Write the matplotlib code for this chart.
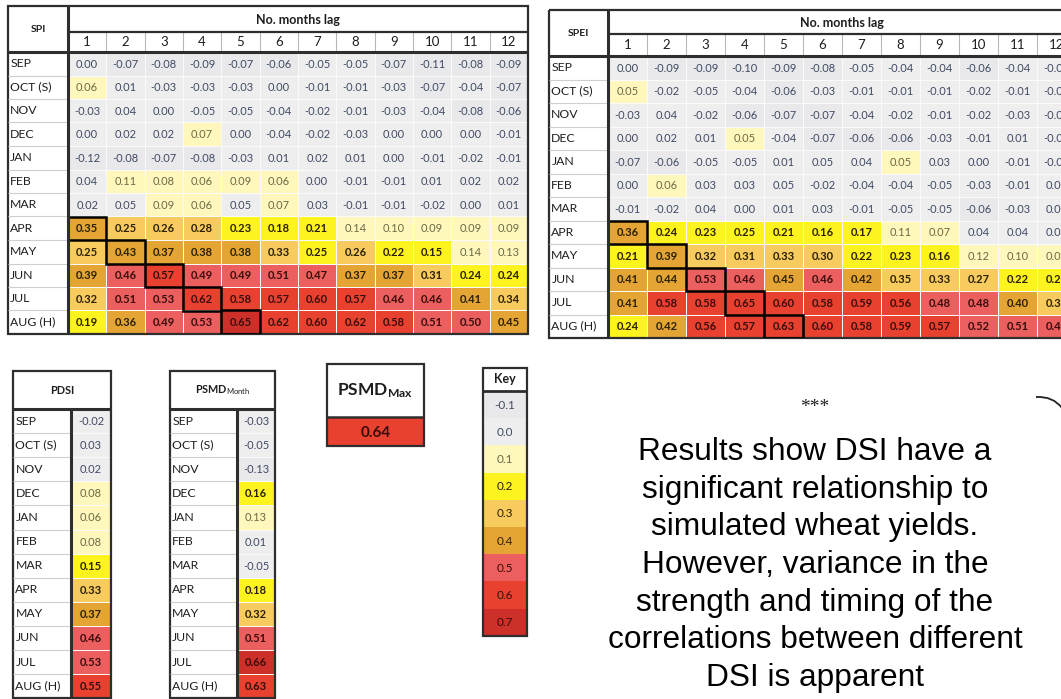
import matplotlib
matplotlib.use("Agg")
import matplotlib.pyplot as plt
import numpy as np
from matplotlib.colors import ListedColormap, BoundaryNorm
from matplotlib.patches import Rectangle, PathPatch
from matplotlib.path import Path

plt.rcParams['font.family'] = ['Lato', 'DejaVu Sans']
plt.rcParams['mathtext.fontset'] = 'custom'
plt.rcParams['mathtext.rm'] = 'Lato'
plt.rcParams['mathtext.bf'] = 'Lato:bold'
plt.rcParams['mathtext.it'] = 'Lato:italic'

# ---- data ----
months = ['SEP', 'OCT (S)', 'NOV', 'DEC', 'JAN', 'FEB', 'MAR',
          'APR', 'MAY', 'JUN', 'JUL', 'AUG (H)']
lags = [str(i) for i in range(1, 13)]

# third decimal only estimated where the cell colour says which side of a class edge it falls
spi = [
    [0.00, -0.07, -0.08, -0.09, -0.07, -0.06, -0.05, -0.05, -0.07, -0.11, -0.08, -0.09],
    [0.06, 0.01, -0.03, -0.03, -0.03, 0.00, -0.01, -0.01, -0.03, -0.07, -0.04, -0.07],
    [-0.03, 0.04, 0.00, -0.05, -0.05, -0.04, -0.02, -0.01, -0.03, -0.04, -0.08, -0.06],
    [0.00, 0.02, 0.02, 0.07, 0.00, -0.04, -0.02, -0.03, 0.00, 0.00, 0.00, -0.01],
    [-0.12, -0.08, -0.07, -0.08, -0.03, 0.01, 0.02, 0.01, 0.00, -0.01, -0.02, -0.01],
    [0.04, 0.11, 0.08, 0.06, 0.09, 0.06, 0.00, -0.01, -0.01, 0.01, 0.02, 0.02],
    [0.02, 0.048, 0.09, 0.06, 0.048, 0.07, 0.03, -0.01, -0.01, -0.02, 0.00, 0.01],
    [0.352, 0.252, 0.26, 0.28, 0.23, 0.18, 0.21, 0.14, 0.10, 0.09, 0.09, 0.09],
    [0.252, 0.43, 0.37, 0.38, 0.38, 0.33, 0.248, 0.26, 0.22, 0.152, 0.14, 0.13],
    [0.39, 0.46, 0.57, 0.49, 0.49, 0.51, 0.47, 0.37, 0.37, 0.31, 0.24, 0.24],
    [0.32, 0.51, 0.53, 0.62, 0.58, 0.57, 0.60, 0.57, 0.46, 0.46, 0.41, 0.34],
    [0.19, 0.36, 0.49, 0.53, 0.652, 0.62, 0.60, 0.62, 0.58, 0.51, 0.50, 0.448],
]
spei = [
    [0.00, -0.09, -0.09, -0.10, -0.09, -0.08, -0.05, -0.04, -0.04, -0.06, -0.04, -0.05],
    [0.052, -0.02, -0.05, -0.04, -0.06, -0.03, -0.01, -0.01, -0.01, -0.02, -0.01, -0.04],
    [-0.03, 0.04, -0.02, -0.06, -0.07, -0.07, -0.04, -0.02, -0.01, -0.02, -0.03, -0.03],
    [0.00, 0.02, 0.01, 0.052, -0.04, -0.07, -0.06, -0.06, -0.03, -0.01, 0.01, -0.01],
    [-0.07, -0.06, -0.05, -0.05, 0.01, 0.048, 0.04, 0.052, 0.03, 0.00, -0.01, -0.01],
    [0.00, 0.06, 0.03, 0.03, 0.048, -0.02, -0.04, -0.04, -0.05, -0.03, -0.01, 0.00],
    [-0.01, -0.02, 0.04, 0.00, 0.01, 0.03, -0.01, -0.05, -0.05, -0.06, -0.03, 0.00],
    [0.36, 0.24, 0.23, 0.248, 0.21, 0.16, 0.17, 0.11, 0.07, 0.04, 0.04, 0.04],
    [0.21, 0.39, 0.32, 0.31, 0.33, 0.30, 0.22, 0.23, 0.16, 0.12, 0.10, 0.08],
    [0.41, 0.44, 0.53, 0.46, 0.448, 0.46, 0.42, 0.348, 0.33, 0.27, 0.22, 0.20],
    [0.41, 0.58, 0.58, 0.648, 0.60, 0.58, 0.59, 0.56, 0.48, 0.48, 0.40, 0.34],
    [0.24, 0.42, 0.56, 0.57, 0.63, 0.60, 0.58, 0.59, 0.57, 0.52, 0.51, 0.46],
]
pdsi = [-0.02, 0.03, 0.02, 0.08, 0.06, 0.08, 0.152, 0.33, 0.37, 0.46, 0.53, 0.552]
psmd_month = [-0.03, -0.05, -0.13, 0.16, 0.13, 0.01, -0.05, 0.18, 0.32, 0.51, 0.66, 0.63]
psmd_max = [0.64]
key_levels = [-0.1, 0.0, 0.1, 0.2, 0.3, 0.4, 0.5, 0.6, 0.7]

# highlighted diagonal (first lag month of APR..AUG)
diag_rows = [7, 8, 9, 10, 11]
diag_cols = [0, 1, 2, 3, 4]

summary = ["Results show DSI have a", "significant relationship to",
           "simulated wheat yields.", "However, variance in the",
           "strength and timing of the", "correlations between different",
           "DSI is apparent"]

# ---- colour classes ----
class_colors = ['#e9e9eb', '#eeeeee', '#fff7bc', '#fdf31e', '#f8cb5e',
                '#e4a535', '#eb5f5e', '#e8412f', '#cd2f29']
bounds = [-1, -0.05, 0.05, 0.15, 0.25, 0.35, 0.45, 0.55, 0.65, 1]
cmap = ListedColormap(class_colors)
norm = BoundaryNorm(bounds, cmap.N)


def txt_style(v):
    k = norm(v)
    if k <= 1:
        return dict(color='#3f4a63', fontweight='normal')
    if k == 2:
        return dict(color='#6b6a45', fontweight='normal')
    if k <= 5:
        return dict(color='#2b2000', fontweight='bold')
    return dict(color='#3a0c0c', fontweight='bold')


W, H = 1061, 699
fig = plt.figure(figsize=(W / 100, H / 100), dpi=100)
fig.patch.set_facecolor('white')

# background axes for free text, pixel coordinates
bg = fig.add_axes([0, 0, 1, 1])
bg.set_xlim(0, W)
bg.set_ylim(H, 0)
bg.axis('off')


def make_axes(left, top, col_w, row_h, xmin, xmax, ymin, ymax):
    width = (xmax - xmin) * col_w
    height = (ymax - ymin) * row_h
    ax = fig.add_axes([left / W, 1 - (top + height) / H, width / W, height / H])
    ax.set_xlim(xmin, xmax)
    ax.set_ylim(ymax, ymin)
    ax.axis('off')
    return ax


VAL_FS = 8.0
LAB_FS = 8.8


def lag_table(left, top, col_w, row_h, lab_w, hdr1, hdr2, vals, title):
    vals = np.array(vals)
    LW = lab_w / col_w
    split = -hdr2 / row_h
    ymin = -(hdr1 + hdr2) / row_h
    ax = make_axes(left, top, col_w, row_h, -LW, 12, ymin, 12)
    ax.pcolormesh(np.arange(13), np.arange(13), vals, cmap=cmap, norm=norm,
                  edgecolors='#fafafa', linewidth=0.5)
    for i in range(12):
        ax.text(-LW + 0.06, i + 0.5, months[i], ha='left', va='center',
                fontsize=LAB_FS, color='#1e1e1e')
        for j in range(12):
            ax.text(j + 0.5, i + 0.52, f"{vals[i, j]:.2f}", ha='center', va='center',
                    fontsize=VAL_FS, **txt_style(vals[i, j]))
    ax.hlines(np.arange(1, 12), -LW, 0, color='#cfcfcf', lw=0.8)
    for j in range(12):
        ax.text(j + 0.5, split / 2, lags[j], ha='center', va='center',
                fontsize=9.5, color='#1e1e1e')
    ax.vlines(np.arange(1, 12), split, 0, color='#b8b8b8', lw=0.8)
    ax.text(6, (ymin + split) / 2 + 0.05, 'No. months lag', ha='center', va='center',
            fontsize=9, fontweight='bold', color='#1e1e1e')
    ax.text(-LW / 2, ymin / 2, title, ha='center', va='center',
            fontsize=7.5, fontweight='bold', color='#1e1e1e')
    ax.hlines(split, 0, 12, color='#2e2e2e', lw=1.6)
    ax.hlines(0, -LW, 12, color='#2e2e2e', lw=2.2)
    ax.vlines(0, ymin, 12, color='#2e2e2e', lw=2.2)
    ax.add_patch(Rectangle((-LW, ymin), LW + 12, 12 - ymin, fill=False,
                           ec='#2e2e2e', lw=1.6, clip_on=False))
    for r, c in zip(diag_rows, diag_cols):
        ax.add_patch(Rectangle((c, r), 1, 1, fill=False, ec='black', lw=1.8))
    return ax


def column_table(left, top, col_w, row_h, lab_w, hdr, vals, title, title_size):
    vals = np.array(vals).reshape(-1, 1)
    LW = lab_w / col_w
    ymin = -hdr / row_h
    ax = make_axes(left, top, col_w, row_h, -LW, 1, ymin, 12)
    ax.pcolormesh(np.arange(2), np.arange(13), vals, cmap=cmap, norm=norm,
                  edgecolors='#fafafa', linewidth=0.5)
    for i in range(12):
        ax.text(-LW + 0.06, i + 0.5, months[i], ha='left', va='center',
                fontsize=LAB_FS, color='#1e1e1e')
        ax.text(0.5, i + 0.52, f"{vals[i, 0]:.2f}", ha='center', va='center',
                fontsize=VAL_FS, **txt_style(vals[i, 0]))
    ax.hlines(np.arange(1, 12), -LW, 0, color='#cfcfcf', lw=0.8)
    ax.text((1 - LW) / 2, ymin / 2, title, ha='center', va='center',
            fontsize=title_size, fontweight='bold', color='#1e1e1e')
    ax.hlines(0, -LW, 1, color='#2e2e2e', lw=2.2)
    ax.vlines(0, 0, 12, color='#2e2e2e', lw=2.2)
    ax.add_patch(Rectangle((-LW, ymin), LW + 1, 12 - ymin, fill=False,
                           ec='#2e2e2e', lw=1.6, clip_on=False))
    return ax


lag_table(8, 6, 38.33, 23.5, 60, 26, 20, spi, 'SPI')
lag_table(549, 10, 39.0, 23.5, 59, 24, 22, spei, 'SPEI')

column_table(13, 371, 40, 24.1, 58, 38, pdsi, 'PDSI', 7.8)
column_table(170, 371, 38, 24.1, 67, 38, psmd_month,
             r'$\mathbf{PSMD}_{\mathrm{Month}}$', 7.8)

# PSMD max single cell
ax = make_axes(327, 364, 97, 29, 0, 1, -53 / 29, 1)
ax.pcolormesh([0, 1], [0, 1], np.array(psmd_max).reshape(1, 1), cmap=cmap, norm=norm)
ax.text(0.5, 0.55, f"{psmd_max[0]:.2f}", ha='center', va='center', fontsize=11,
        **txt_style(psmd_max[0]))
ax.text(0.5, -53 / 29 / 2, r'$\mathbf{PSMD}_{\mathbf{Max}}$', ha='center', va='center',
        fontsize=12.5, color='#1e1e1e')
ax.hlines(0, 0, 1, color='#2e2e2e', lw=1.8)
ax.add_patch(Rectangle((0, -53 / 29), 1, 1 + 53 / 29, fill=False, ec='#2e2e2e',
                       lw=1.6, clip_on=False))

# Key
kh = 23 / 27.2
ax = make_axes(483, 368, 44, 27.2, 0, 1, -kh, len(key_levels))
kv = np.array(key_levels).reshape(-1, 1)
ax.pcolormesh([0, 1], np.arange(len(key_levels) + 1), kv, cmap=cmap, norm=norm)
for i, v in enumerate(key_levels):
    st = txt_style(v)
    st['fontweight'] = 'normal'
    ax.text(0.5, i + 0.52, f"{v:.1f}", ha='center', va='center', fontsize=8.5, **st)
ax.text(0.5, -kh / 2, 'Key', ha='center', va='center', fontsize=9,
        fontweight='bold', color='#1e1e1e')
ax.hlines(0, 0, 1, color='#2e2e2e', lw=2.0)
ax.add_patch(Rectangle((0, -kh), 1, len(key_levels) + kh, fill=False, ec='#2e2e2e',
                       lw=1.6, clip_on=False))

# summary text
bg.text(815, 408, '***', ha='center', va='center', fontsize=14,
        family='Liberation Serif', color='#222222')
for i, line in enumerate(summary):
    bg.text(815, 452 + i * 37.7, line, ha='center', va='center', fontsize=22.8,
            family='Liberation Sans', color='black')

# small curved stroke at right edge
curve = Path([(1036, 397), (1053, 396), (1062, 408)],
             [Path.MOVETO, Path.CURVE3, Path.CURVE3])
bg.add_patch(PathPatch(curve, fill=False, ec='#222222', lw=1.3))

fig.savefig('out.png', dpi=100, facecolor='white')
